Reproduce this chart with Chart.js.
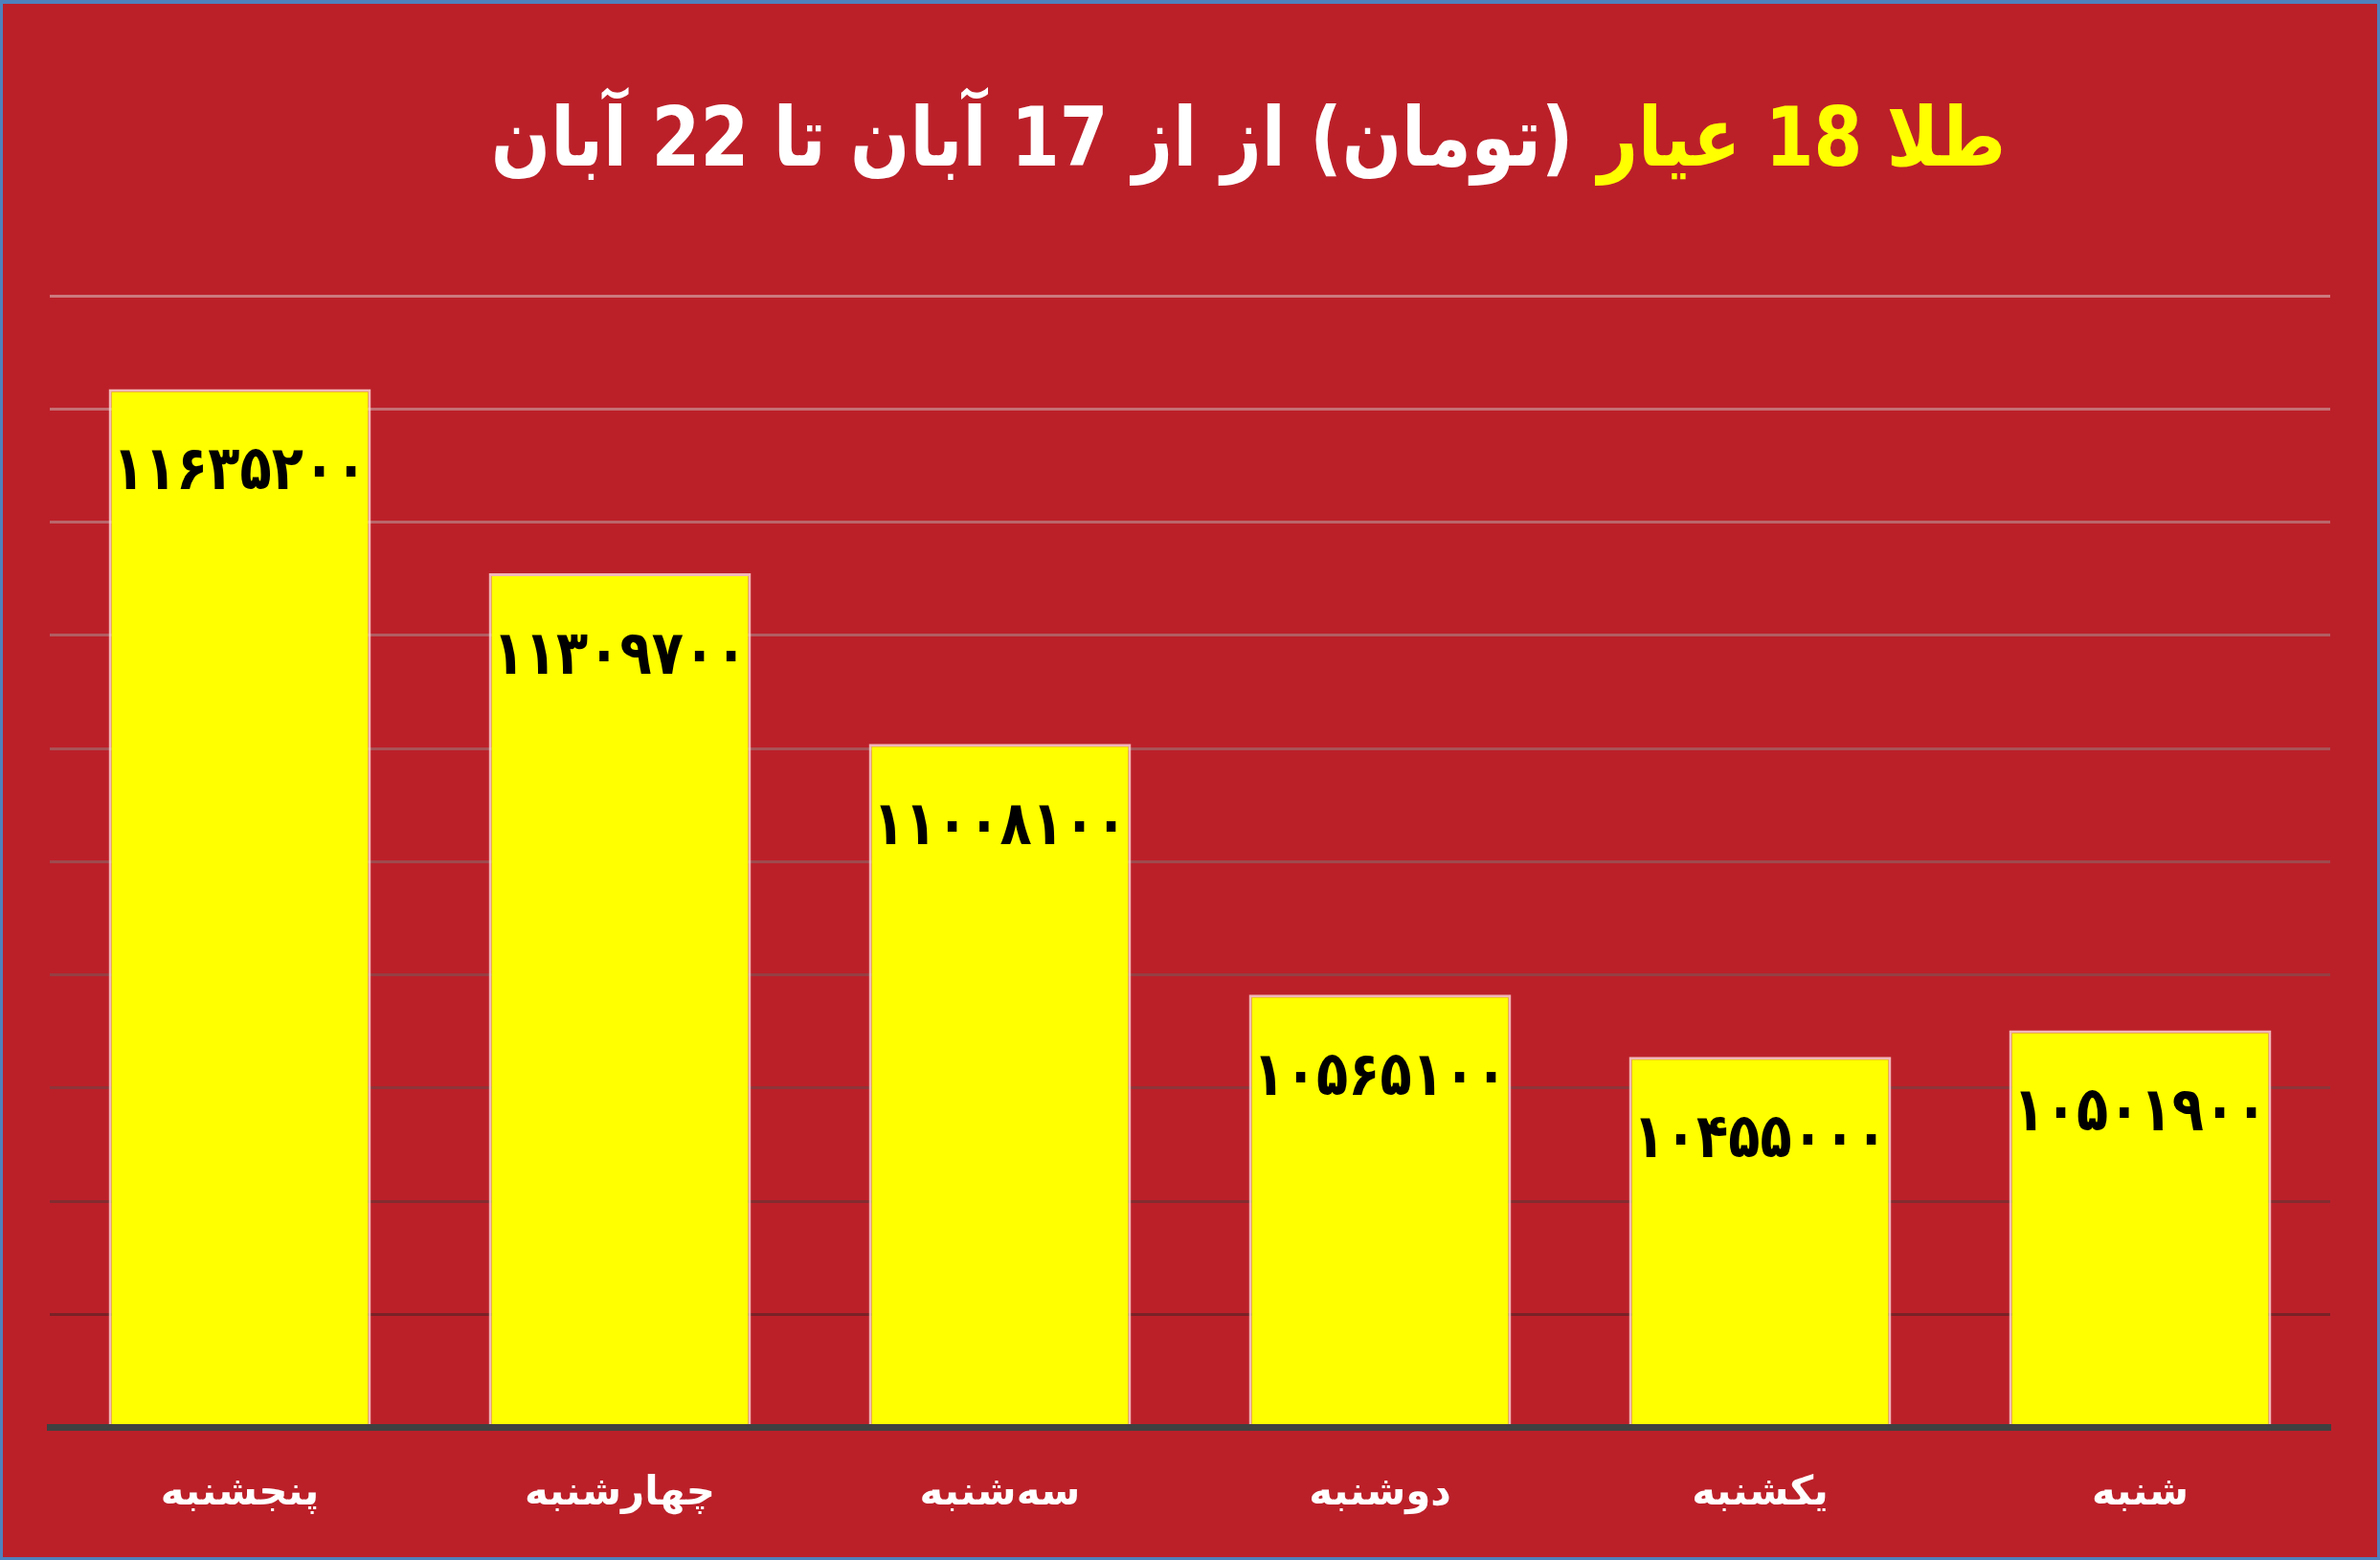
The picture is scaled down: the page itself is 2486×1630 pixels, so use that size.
<!DOCTYPE html>
<html lang="fa">
<head>
<meta charset="utf-8">
<script src="https://cdn.jsdelivr.net/npm/chart.js@4"></script>
<style>
  html, body { margin: 0; padding: 0; background: #BB2029; }
  #wrap { position: relative; width: 2486px; height: 1630px; overflow: hidden; }
  #chart { position: absolute; left: 0; top: 0; }
  #frame { position: absolute; left: 0; top: 0; width: 2486px; height: 1630px; box-sizing: border-box;
           border: 3px solid #4F81BD; border-top-width: 4px; pointer-events: none; }
  #title { position: absolute; left: 1304px; top: 100px; direction: rtl;
           transform: translateX(-50%) scaleX(0.85);
           font: bold 86px "DejaVu Sans", sans-serif; color: #FFFFFF; line-height: 1; white-space: nowrap; }
  #title .y { color: #FFFF00; }
</style>
</head>
<body>
<div id="wrap">
  <canvas id="chart" width="2486" height="1630"></canvas>
  <div id="title"><span class="y">طلا 18 عیار</span> (تومان) از از 17 آبان تا 22 آبان</div>
  <div id="frame"></div>
</div>
<script>
  // left to right as in the picture
  const days = ['پنجشنبه', 'چهارشنبه', 'سه‌شنبه', 'دوشنبه', 'یکشنبه', 'شنبه'];
  const prices = [11635200, 11309700, 11008100, 10565100, 10455000, 10501900];

  const yMin = 9800000;
  const yMax = 11800000;
  const yStep = 200000;

  function toFa(n) {
    const d = '۰۱۲۳۴۵۶۷۸۹';
    return String(n).replace(/[0-9]/g, c => d[+c]);
  }

  // grid lines fade from dark (bottom) to light (top)
  function gridColor(ctx) {
    const t = ctx.index / 10;
    const r = Math.round(112 + (205 - 112) * t);
    const g = Math.round(24 + (122 - 24) * t);
    const b = Math.round(28 + (126 - 28) * t);
    return 'rgb(' + r + ',' + g + ',' + b + ')';
  }

  const barLabels = {
    id: 'barLabels',
    afterDatasetsDraw(chart) {
      const ctx = chart.ctx;
      const meta = chart.getDatasetMeta(0);
      meta.data.forEach((bar, i) => {
        ctx.save();
        ctx.translate(bar.x, bar.y + 88);
        ctx.scale(0.85, 1);
        ctx.font = 'bold 64px "DejaVu Sans", sans-serif';
        ctx.fillStyle = '#000000';
        ctx.textAlign = 'center';
        ctx.textBaseline = 'middle';
        ctx.fillText(toFa(prices[i]), 0, 0);
        ctx.restore();
      });
    }
  };

  const ctx = document.getElementById('chart').getContext('2d');
  const chart = new Chart(ctx, {
    type: 'bar',
    data: {
      labels: days,
      datasets: [{
        data: prices,
        backgroundColor: '#FFFF00',
        borderColor: 'rgba(255, 220, 220, 0.8)',
        borderWidth: 3,
        borderSkipped: 'bottom',
        categoryPercentage: 1,
        barPercentage: 0.69
      }]
    },
    options: {
      responsive: false,
      animation: false,
      devicePixelRatio: 1,
      layout: { padding: { top: 309, left: 52, right: 52, bottom: 0 } },
      plugins: {
        legend: { display: false },
        tooltip: { enabled: false }
      },
      scales: {
        x: {
          grid: { display: false, drawTicks: false },
          border: { display: true, color: '#404040', width: 7, z: 1 },
          ticks: {
            color: '#FFFFFF',
            padding: 44,
            font: { family: '"DejaVu Sans", sans-serif', size: 42, weight: 'bold' }
          }
        },
        y: {
          min: yMin,
          max: yMax,
          ticks: { display: false, stepSize: yStep },
          grid: { color: gridColor, lineWidth: 3, drawTicks: false },
          border: { display: false }
        }
      }
    },
    plugins: [barLabels]
  });
</script>
</body>
</html>
